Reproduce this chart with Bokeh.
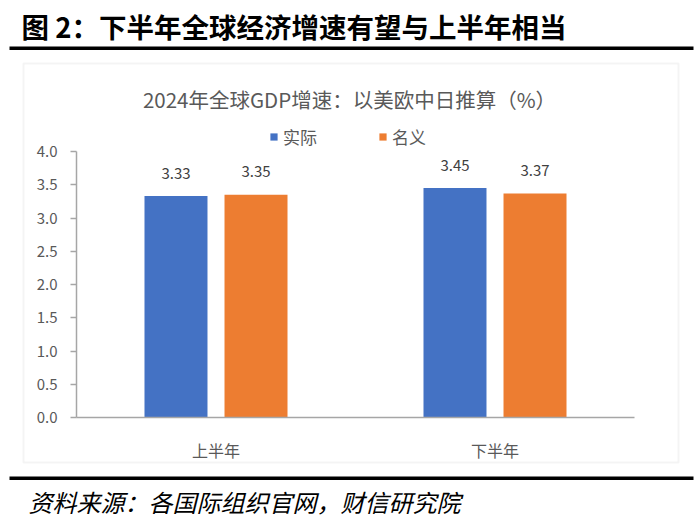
from bokeh.plotting import figure
from bokeh.models import (Range1d, ColumnDataSource, Label, BoxAnnotation,
                          Legend, LegendItem, FixedTicker, NumeralTickFormatter)
from bokeh.transform import dodge
from bokeh.core.properties import value
from bokeh.embed import file_html
from bokeh.resources import INLINE

# ---------------- data ----------------
categories = ["上半年", "下半年"]
real_growth = [3.33, 3.45]
nominal_growth = [3.35, 3.37]
series_names = ["实际", "名义"]
series_colors = ["#4472C4", "#ED7D31"]
y_ticks = [0.0, 0.5, 1.0, 1.5, 2.0, 2.5, 3.0, 3.5, 4.0]
figure_title = "图 2：下半年全球经济增速有望与上半年相当"
chart_title = "2024年全球GDP增速：以美欧中日推算（%）"
source_note = "资料来源：各国际组织官网，财信研究院"

# ---------------- layout (page pixels) ----------------
FONT = "Noto Sans CJK SC"
W, H = 697, 523
AX_L, AX_R = 76, 634      # plot area x extent
AX_T, AX_B = 151, 417     # plot area y extent (4.0 .. 0.0)
Y_MAX = 4.0
N_CAT = len(categories)


def sx(px):
    return (px - AX_L) / (AX_R - AX_L) * N_CAT


def sy(py):
    return (AX_B - py) / (AX_B - AX_T) * Y_MAX


cat_pos = [i + 0.5 for i in range(N_CAT)]

src = ColumnDataSource(dict(
    pos=cat_pos,
    cat=categories,
    real=real_growth,
    nominal=nominal_growth,
    real_lbl=[f"{v:.2f}" for v in real_growth],
    nom_lbl=[f"{v:.2f}" for v in nominal_growth],
))

p = figure(width=W, height=H,
           x_range=Range1d(sx(0), sx(W)), y_range=Range1d(sy(H), sy(0)),
           output_backend="svg", toolbar_location=None,
           min_border=0, min_border_left=0, min_border_right=0,
           min_border_top=0, min_border_bottom=0,
           outline_line_color=None, background_fill_color="white",
           border_fill_color="white")

OFF = 0.1434
BW = 0.2258
r1 = p.vbar(x=dodge("pos", -OFF), top="real", width=BW,
            source=src, fill_color=series_colors[0], line_color=None)
r2 = p.vbar(x=dodge("pos", OFF), top="nominal", width=BW,
            source=src, fill_color=series_colors[1], line_color=None)

for col, lbl, off in (("real", "real_lbl", -OFF), ("nominal", "nom_lbl", OFF)):
    p.text(x=dodge("pos", off), y=col, text=lbl, source=src,
           y_offset=-23, text_align="center", text_baseline="middle",
           text_font=value(FONT), text_font_size="15px", text_color="#404040")

# axes
p.xgrid.visible = False
p.ygrid.visible = False
xa = p.xaxis[0]
xa.fixed_location = 0
xa.bounds = (0, N_CAT)
xa.ticker = FixedTicker(ticks=cat_pos)
xa.major_label_overrides = {pos: c for pos, c in zip(cat_pos, categories)}
xa.axis_line_color = "#a6a6a6"
xa.axis_line_width = 1.5
xa.major_tick_line_color = None
xa.minor_tick_line_color = None
xa.major_label_text_font = FONT
xa.major_label_text_font_size = "16px"
xa.major_label_text_color = "#595959"
xa.major_label_standoff = 14

ya = p.yaxis[0]
ya.fixed_location = 0
ya.bounds = (0, Y_MAX)
ya.ticker = FixedTicker(ticks=y_ticks)
ya.formatter = NumeralTickFormatter(format="0.0")
ya.axis_line_color = "#a6a6a6"
ya.axis_line_width = 1.5
ya.major_tick_line_color = "#a6a6a6"
ya.major_tick_line_width = 1.5
ya.major_tick_in = 0
ya.major_tick_out = 6
ya.minor_tick_line_color = None
ya.major_label_text_font = FONT
ya.major_label_text_font_size = "15px"
ya.major_label_text_color = "#595959"
ya.major_label_standoff = 13

# legend
legend = Legend(items=[LegendItem(label=series_names[0], renderers=[r1]),
                       LegendItem(label=series_names[1], renderers=[r2])],
                orientation="horizontal", location=(269, H - 149),
                glyph_width=9, glyph_height=9, label_standoff=5, spacing=61,
                label_height=17, label_text_font=FONT, label_text_font_size="17px",
                label_text_color="#595959", label_text_baseline="middle",
                padding=0, margin=0, border_line_color=None,
                background_fill_alpha=0)
p.add_layout(legend, "center")

# chart box
p.add_layout(BoxAnnotation(left=sx(23), right=sx(678), top=sy(63), bottom=sy(462),
                           fill_color=None, fill_alpha=0, line_color="#d9d9d9",
                           line_width=2, level="underlay"))

# chart title
p.add_layout(Label(x=sx(349), y=sy(98), text=chart_title, text_align="center",
                   text_baseline="middle", text_font=FONT, text_font_size="20.5px",
                   text_color="#595959"))

# figure header
p.add_layout(Label(x=sx(21), y=sy(25), text=figure_title, text_align="left",
                   text_baseline="middle", text_font=FONT, text_font_size="27.5px",
                   text_font_style="bold", text_color="#000000"))
p.add_layout(BoxAnnotation(left=sx(9), right=sx(693), top=sy(46), bottom=sy(49.5),
                           fill_color="#000000", fill_alpha=1, line_color=None))

# footer
p.add_layout(BoxAnnotation(left=sx(9), right=sx(693), top=sy(476), bottom=sy(479.5),
                           fill_color="#000000", fill_alpha=1, line_color=None))
p.add_layout(Label(x=sx(28), y=sy(501), text=source_note, text_align="left",
                   text_baseline="middle", text_font=FONT, text_font_size="24px",
                   text_font_style="italic", text_color="#000000"))

open("out.html", "w").write(file_html(p, INLINE))
